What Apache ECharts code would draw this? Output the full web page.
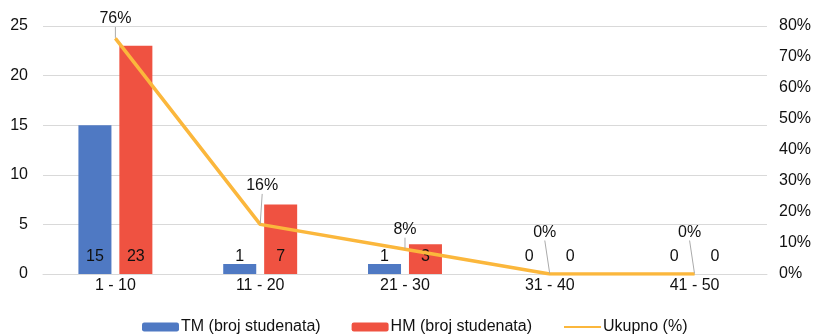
<!DOCTYPE html>
<html>
<head>
<meta charset="utf-8">
<script src="https://cdn.jsdelivr.net/npm/echarts@6/dist/echarts.min.js"></script>
<style>
html,body{margin:0;padding:0;background:#fff;}
#c{width:814px;height:334px;}
</style>
</head>
<body>
<div id="c"></div>
<script>
const categories = ['1 - 10', '11 - 20', '21 - 30', '31 - 40', '41 - 50'];
const tmValues = [15, 1, 1, 0, 0];
const hmValues = [23, 7, 3, 0, 0];
const totalPercent = [76, 16, 8, 0, 0];
const seriesNames = ['TM (broj studenata)', 'HM (broj studenata)', 'Ukupno (%)'];

const FONT = '"Liberation Sans", Arial, sans-serif';
const TXT = '#111111';
const GRID = '#d9d9d9';
const ORANGE = '#fbb73c';

const chart = echarts.init(document.getElementById('c'));
const labelShift = {1: [2, -19], 3: [-5, -22], 4: [-5, -22]};

chart.setOption({
  animation: false,
  textStyle: {fontFamily: FONT},
  grid: {left: 43, right: 47, top: 26, bottom: 60, containLabel: false},
  legend: {
    bottom: -6,
    left: 137,
    itemWidth: 37,
    itemHeight: 9,
    itemGap: 31,
    textStyle: {fontSize: 16, color: TXT, fontFamily: FONT, padding: [0, 0, 0, -3]},
    data: [
      seriesNames[0],
      seriesNames[1],
      {name: seriesNames[2], itemStyle: {opacity: 0}}
    ]
  },
  xAxis: {
    type: 'category',
    data: categories,
    axisTick: {show: false},
    axisLine: {lineStyle: {color: GRID}},
    axisLabel: {fontSize: 16, color: TXT, margin: 4, fontFamily: FONT}
  },
  yAxis: [
    {
      type: 'value', min: 0, max: 25, interval: 5,
      axisLabel: {fontSize: 16, color: TXT, margin: 15, fontFamily: FONT},
      splitLine: {lineStyle: {color: GRID}},
      axisLine: {show: false}, axisTick: {show: false}
    },
    {
      type: 'value', min: 0, max: 80, interval: 10,
      axisLabel: {fontSize: 16, color: TXT, margin: 12, formatter: '{value}%', fontFamily: FONT},
      splitLine: {show: false},
      axisLine: {show: false}, axisTick: {show: false}
    }
  ],
  series: [
    {
      name: seriesNames[0], type: 'bar', data: tmValues,
      barWidth: '22.8%', barGap: '24%',
      itemStyle: {color: '#4f79c3'},
      label: {show: true, position: 'insideBottom', distance: 9, fontSize: 16, color: TXT, fontFamily: FONT}
    },
    {
      name: seriesNames[1], type: 'bar', data: hmValues,
      barWidth: '22.8%', barGap: '24%',
      itemStyle: {color: '#ef5241'},
      label: {show: true, position: 'insideBottom', distance: 9, fontSize: 16, color: TXT, fontFamily: FONT}
    },
    {
      name: seriesNames[2], type: 'line', yAxisIndex: 1, data: totalPercent,
      symbol: 'circle', symbolSize: 1, showSymbol: true,
      lineStyle: {color: ORANGE, width: 3.5},
      itemStyle: {color: ORANGE},
      z: 5,
      label: {show: true, position: 'top', distance: 11, fontSize: 16, color: TXT, formatter: '{c}%', fontFamily: FONT},
      labelLine: {show: true, lineStyle: {color: '#aaaaaa', width: 1}},
      labelLayout: function (p) {
        const s = labelShift[p.dataIndex];
        return s ? {dx: s[0], dy: s[1]} : {};
      }
    }
  ]
});
</script>
</body>
</html>
